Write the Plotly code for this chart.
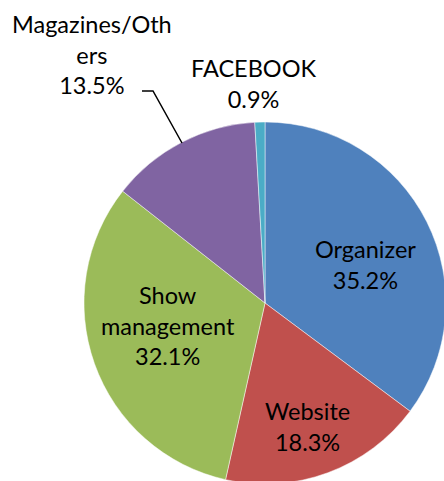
import plotly.graph_objects as go

# Data
categories = ["Organizer", "Website", "Show management", "Magazines/Others", "FACEBOOK"]
display_labels = ["Organizer", "Website", "Show<br>management", "Magazines/Oth<br>ers", "FACEBOOK"]
values = [35.2, 18.3, 32.1, 13.5, 0.9]
colors = ["#4F81BD", "#C0504D", "#9BBB59", "#8064A2", "#4BACC6"]

# Label block centres in pixels (layout)
label_px = [(365, 264), (307, 426), (168, 325), (92, 55), (253, 83)]

W, H = 446, 484
ML, MR, MT, MB = 84, 0, 122, 0
PW, PH = W - ML - MR, H - MT - MB


def px2paper(x, y):
    return (x - ML) / PW, (H - MB - y) / PH


fig = go.Figure(
    go.Pie(
        labels=categories,
        values=values,
        sort=False,
        direction="clockwise",
        rotation=0,
        marker=dict(colors=colors, line=dict(color="rgba(255,255,255,0.6)", width=0.8)),
        textinfo="none",
        hoverinfo="label+percent",
        showlegend=False,
    )
)

total = sum(values)
for lab, v, (x, y) in zip(display_labels, values, label_px):
    px, py = px2paper(x, y)
    fig.add_annotation(
        x=px, y=py, xref="paper", yref="paper",
        text=f"{lab}<br>{v / total * 100:.1f}%",
        showarrow=False, xanchor="center", yanchor="middle",
        font=dict(family="Lato", size=23.5, color="#000000"),
    )

# Leader line for Magazines/Others
p1 = px2paper(142, 91)
p2 = px2paper(153, 91)
p3 = px2paper(182, 143)
fig.add_shape(
    type="path", xref="paper", yref="paper",
    path=f"M {p1[0]} {p1[1]} L {p2[0]} {p2[1]} L {p3[0]} {p3[1]}",
    line=dict(color="#000000", width=1.5),
)

fig.update_layout(
    width=W, height=H,
    margin=dict(l=ML, r=MR, t=MT, b=MB, pad=0),
    paper_bgcolor="#FFFFFF",
    plot_bgcolor="#FFFFFF",
)

fig.write_html(
    "out.html",
    config={"displayModeBar": False},
    post_script="document.body.style.margin='0';document.body.style.overflow='hidden';document.documentElement.style.overflow='hidden';",
)
